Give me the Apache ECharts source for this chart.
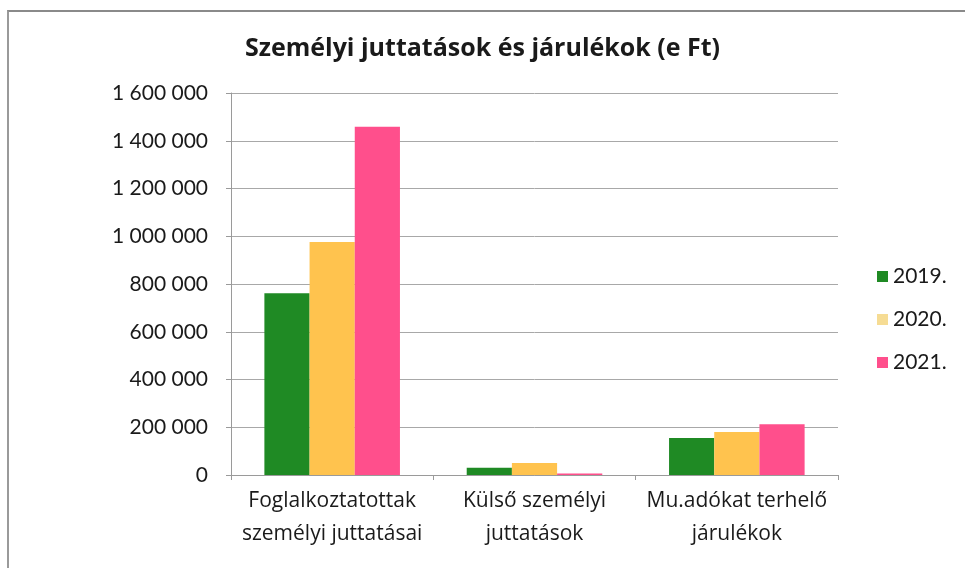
<!DOCTYPE html>
<html>
<head>
<meta charset="utf-8">
<script src="https://cdn.jsdelivr.net/npm/echarts@6/dist/echarts.min.js"></script>
<style>
  html, body { margin: 0; padding: 0; background: #fff; }
  #chart { width: 965px; height: 568px; }
  #frame {
    position: absolute; left: 7px; top: 10px; width: 965px; height: 568px;
    border-top: 2px solid #8a8a8a; border-left: 2px solid #9a9a9a;
    pointer-events: none;
  }
</style>
</head>
<body>
<div id="chart"></div>
<div id="frame"></div>
<script>
const categories = ['Foglalkoztatottak\nszemélyi juttatásai', 'Külső személyi\njuttatások', 'Mu.adókat terhelő\njárulékok'];
const years = ['2019.', '2020.', '2021.'];
const v2019 = [761000, 30000, 155000];
const v2020 = [976000, 50000, 180000];
const v2021 = [1459000, 6000, 213000];
const colors = ['#1f8a24', '#ffc34e', '#ff4f8c'];

const font = 'Lato, "Open Sans", sans-serif';
const wideFont = '"Open Sans", Lato, sans-serif';
const chart = echarts.init(document.getElementById('chart'));

function fmt(v) {
  return String(v).replace(/\B(?=(\d{3})+(?!\d))/g, ' ');
}

chart.setOption({
  animation: false,
  title: {
    text: 'Személyi juttatások és járulékok (e Ft)',
    left: 'center', top: 31,
    textStyle: { fontFamily: wideFont, fontSize: 25, fontWeight: 'bold', color: '#1a1a1a' }
  },
  legend: {
    orient: 'vertical', left: 872, top: 261, itemGap: 22,
    itemWidth: 11, itemHeight: 11, icon: 'rect',
    textStyle: { fontFamily: font, fontSize: 21, color: '#1a1a1a' },
    data: [
      { name: years[0] },
      { name: years[1], itemStyle: { color: '#f6dc94' } },
      { name: years[2] }
    ]
  },
  grid: { left: 231, right: 127, top: 93, bottom: 93 },
  xAxis: {
    type: 'category',
    data: categories,
    axisLine: { lineStyle: { color: '#9a9a9a' } },
    axisTick: { show: true, length: 5, lineStyle: { color: '#9a9a9a' } },
    axisLabel: { interval: 0, fontFamily: wideFont, fontSize: 21, color: '#1a1a1a', lineHeight: 33, margin: 10 }
  },
  yAxis: {
    type: 'value', min: 0, max: 1600000, interval: 200000,
    axisLine: { show: true, lineStyle: { color: '#9a9a9a' } },
    axisTick: { show: true, length: 5, lineStyle: { color: '#9a9a9a' } },
    splitLine: { lineStyle: { color: '#a8a8a8' } },
    axisLabel: { fontFamily: font, fontSize: 21, color: '#1a1a1a', margin: 23, formatter: fmt }
  },
  series: [
    { name: years[0], type: 'bar', data: v2019, itemStyle: { color: colors[0] }, barGap: '0%', barCategoryGap: '33%' },
    { name: years[1], type: 'bar', data: v2020, itemStyle: { color: colors[1] } },
    { name: years[2], type: 'bar', data: v2021, itemStyle: { color: colors[2] } }
  ]
});
</script>
</body>
</html>
